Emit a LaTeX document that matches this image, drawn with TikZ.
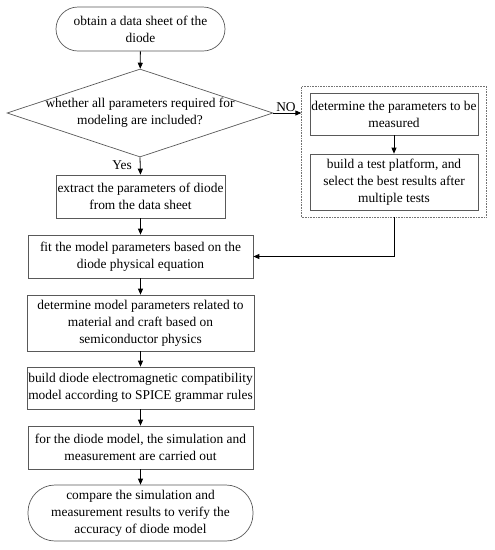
\documentclass[tikz,border=0pt]{standalone}
\usepackage{fontspec}
\setmainfont{Liberation Serif}
\usetikzlibrary{shapes.geometric,arrows.meta,fit}
\begin{document}
\begin{tikzpicture}[x=1pt,y=-1pt,
  every node/.style={font=\fontsize{13.4}{17}\selectfont, align=center, inner sep=0pt},
  boxA/.style={draw=black!65, line width=0.7pt, rectangle, minimum width=#1, },
  term/.style={draw=black!65, line width=0.7pt, rectangle, rounded corners=22pt},
  arr/.style={draw=black, line width=0.8pt, -{Triangle[length=6pt,width=5pt]}},
  lbl/.style={font=\fontsize{13.4}{15}\selectfont}
]
\useasboundingbox (0,0) rectangle (495,550);
% terminator top
\node[term, minimum width=169pt, minimum height=44pt] (start) at (140.5,29) {obtain a data sheet of the\\diode};
% diamond
\node[draw=black!65, line width=0.7pt, diamond, minimum width=266pt, minimum height=88pt] (dia) at (140,113) {};
\node (diatext) at (140,113) {whether all parameters required for\\modeling are included?};
% right boxes
\node[boxA=168pt, minimum height=42pt] (meas) at (394,114) {determine the parameters to be\\measured};
\node[boxA=168pt, minimum height=56pt] (plat) at (394,182) {build a test platform, and\\select the best results after\\multiple tests};
\node[draw=black!55, line width=0.6pt, densely dotted, fit=(meas)(plat), inner xsep=8pt, inner ysep=6.5pt] (group) {};
% left column
\node[boxA=169pt, minimum height=43pt] (extract) at (140.5,196.5) {extract the parameters of diode\\from the data sheet};
\node[boxA=225pt, minimum height=43pt] (fitb) at (140.5,256.5) {fit the model parameters based on the\\diode physical equation};
\node[boxA=227pt, minimum height=56pt] (mat) at (140.5,323) {determine model parameters related to\\material and craft based on\\semiconductor physics};
\node[boxA=227pt, minimum height=42pt] (emc) at (140.5,388) {build diode electromagnetic compatibility\\model according to SPICE grammar rules};
\node[boxA=225pt, minimum height=43pt] (sim) at (140.5,447.5) {for the diode model, the simulation and\\measurement are carried out};
\node[term, rounded corners=27pt, minimum width=225pt, minimum height=56pt] (final) at (140.5,513) {compare the simulation and\\measurement results to verify the\\accuracy of diode model};
% connectors
\draw[arr] (start) -- (dia);
\draw[arr] (dia.east) -- (group.west |- dia.east) node[lbl, pos=0.45, above=1pt] (no) {NO};
\draw[arr] (dia.south) -- (extract.north) node[lbl, pos=0.45, left=8pt] (yes) {Yes};
\draw[arr] (meas) -- (plat);
\draw[arr] (extract) -- (fitb);
\draw[arr] (group.south) |- (fitb.east);
\draw[arr] (fitb) -- (mat);
\draw[arr] (mat) -- (emc);
\draw[arr] (emc) -- (sim);
\draw[arr] (sim) -- (final);
\end{tikzpicture}
\end{document}
